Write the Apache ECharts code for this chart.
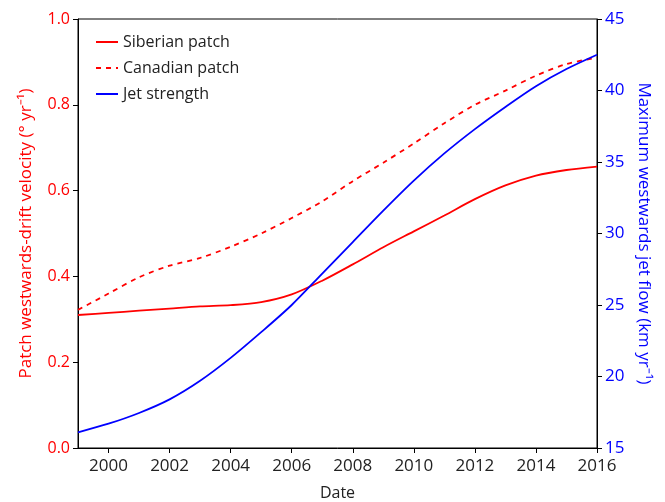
<!DOCTYPE html>
<html lang="en">
<head>
    <meta charset="utf-8">
    <title>ECharts</title>
    <script src="https://cdn.jsdelivr.net/npm/echarts@6/dist/echarts.min.js"></script>
</head>
<body style="margin:0">
<div id="main" style="width: 665px;height:502px;"></div>
<script type="text/javascript">
    var myChart = echarts.init(document.getElementById('main'));

    // values, one per year
    var years = [1999, 2000, 2001, 2002, 2003, 2004, 2005, 2006, 2007, 2008,
                 2009, 2010, 2011, 2012, 2013, 2014, 2015, 2016];
    var siberian = [0.310, 0.315, 0.320, 0.325, 0.330, 0.333, 0.340, 0.358, 0.390, 0.428,
                    0.468, 0.505, 0.542, 0.580, 0.612, 0.635, 0.648, 0.656];
    var canadian = [0.322, 0.360, 0.398, 0.425, 0.443, 0.469, 0.500, 0.536, 0.575, 0.622,
                    0.665, 0.710, 0.757, 0.800, 0.833, 0.868, 0.895, 0.910];
    var jet = [16.1, 16.7, 17.45, 18.4, 19.7, 21.3, 23.1, 25.0, 27.2, 29.4,
               31.6, 33.7, 35.6, 37.3, 38.85, 40.3, 41.5, 42.5];
    var yearTicks = [2000, 2002, 2004, 2006, 2008, 2010, 2012, 2014, 2016];

    function pairs(vals) {
        return years.map(function (y, i) { return [y, vals[i]]; });
    }

    var font = 'Open Sans';
    var red = '#ff0000';
    var blue = '#0000ff';

    option = {
        animation: false,
        textStyle: { fontFamily: font },
        grid: {
            left: 78, right: 68, top: 19, bottom: 54,
            outerBoundsMode: 'none',
            show: true, borderColor: '#000', borderWidth: 1
        },
        legend: {
            left: 90, top: 29, orient: 'vertical',
            itemWidth: 22, itemHeight: 12, itemGap: 10,
            itemStyle: { opacity: 0 },
            textStyle: { fontSize: 16, color: '#222', fontFamily: font },
            data: ['Siberian patch', 'Canadian patch', 'Jet strength']
        },
        xAxis: {
            type: 'value', min: 1999, max: 2016,
            name: 'Date', nameLocation: 'middle', nameGap: 37,
            nameTextStyle: { fontSize: 16, color: '#222' },
            axisLine: { lineStyle: { color: '#000' } },
            axisTick: { customValues: yearTicks, length: 5, lineStyle: { color: '#000' } },
            axisLabel: { customValues: yearTicks, fontSize: 17, color: '#222', margin: 10,
                formatter: function (v) { return String(v); } },
            splitLine: { show: false }
        },
        yAxis: [{
            type: 'value', min: 0, max: 1, interval: 0.2, position: 'left',
            name: 'Patch westwards-drift velocity (° yr\u207B\u00B9)',
            nameLocation: 'middle', nameGap: 43,
            nameTextStyle: { fontSize: 17, color: red },
            axisLine: { show: true, lineStyle: { color: '#000' } },
            axisTick: { show: true, length: 5, lineStyle: { color: '#000' } },
            axisLabel: { fontSize: 16, color: red, margin: 8,
                formatter: function (v) { return v.toFixed(1); } },
            splitLine: { show: false }
        }, {
            type: 'value', min: 15, max: 45, interval: 5, position: 'right',
            name: 'Maximum westwards jet flow (km yr\u207B\u00B9)',
            nameLocation: 'middle', nameGap: 37, nameRotate: -90,
            nameTextStyle: { fontSize: 17, color: blue },
            axisLine: { show: true, lineStyle: { color: '#000' } },
            axisTick: { show: true, length: 5, lineStyle: { color: '#000' } },
            axisLabel: { fontSize: 17, color: blue, margin: 8 },
            splitLine: { show: false }
        }],
        series: [{
            name: 'Siberian patch', type: 'line', yAxisIndex: 0,
            data: pairs(siberian), symbol: 'none', smooth: 0.3,
            lineStyle: { color: red, width: 1.8 }, itemStyle: { color: red }
        }, {
            name: 'Canadian patch', type: 'line', yAxisIndex: 0,
            data: pairs(canadian), symbol: 'none', smooth: 0.3,
            lineStyle: { color: red, width: 1.8, type: [5, 5] }, itemStyle: { color: red }
        }, {
            name: 'Jet strength', type: 'line', yAxisIndex: 1,
            data: pairs(jet), symbol: 'none', smooth: 0.3,
            lineStyle: { color: blue, width: 1.8 }, itemStyle: { color: blue }
        }]
    };

    myChart.setOption(option);
</script>
</body>
</html>
